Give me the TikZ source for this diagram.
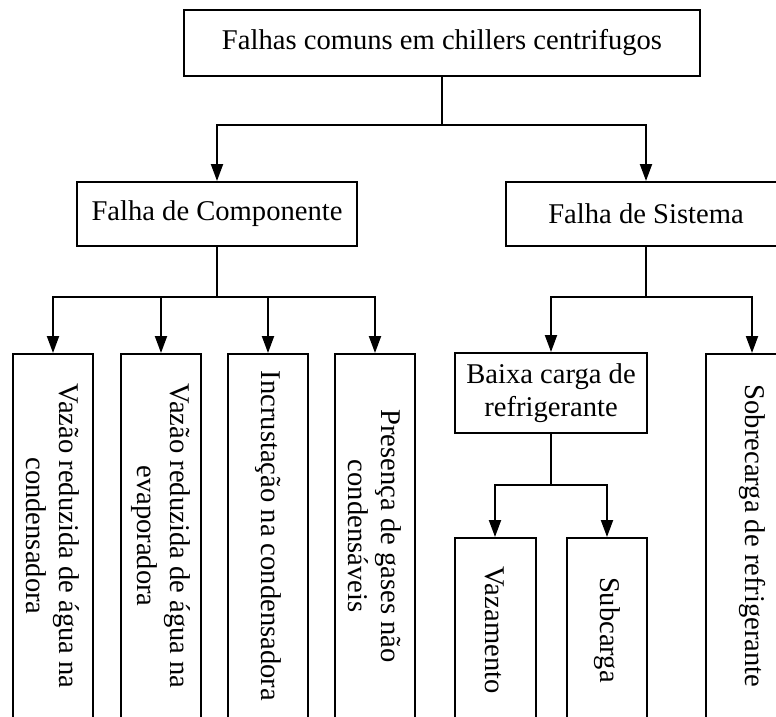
\documentclass[tikz,border=0pt]{standalone}
\usepackage{fontspec}
\setmainfont{Liberation Serif}
\usetikzlibrary{arrows.meta}
\begin{document}
\begin{tikzpicture}[x=1pt,y=-1pt,
  box/.style={draw, line width=2pt, inner sep=0pt, align=center,
              font=\fontsize{28.6}{33}\selectfont},
  vbox/.style={box, rotate=-90},
  link/.style={line width=2pt, -{Triangle[length=17pt,width=12pt]}},
  trunk/.style={line width=2pt}]
\useasboundingbox (0,0) rectangle (776,716);
\clip (0,0) rectangle (776,716);

% root and first level
\node[box, minimum width=516pt, minimum height=66pt] (root) at (442,43) {Falhas comuns em chillers centrifugos};
\node[box, minimum width=280pt, minimum height=64pt] (comp) at (217,214) {Falha de Componente};
\node[box, minimum width=280pt, minimum height=64pt] (sist) at (646,214) {Falha de Sistema};

% component faults (vertical text)
\node[vbox, minimum width=364pt, minimum height=80pt] (c1) at (53,536) {Vazão reduzida de água na\\condensadora};
\node[vbox, minimum width=364pt, minimum height=80pt] (c2) at (161,536) {Vazão reduzida de água na\\evaporadora};
\node[vbox, minimum width=364pt, minimum height=80pt] (c3) at (268,536) {Incrustação na condensadora};
\node[vbox, minimum width=364pt, minimum height=80pt] (c4) at (375,536) {Presença de gases não\\condensáveis};

% system faults
\node[box, minimum width=192pt, minimum height=80pt] (baixa) at (551,393) {Baixa carga de\\refrigerante};
\node[vbox, minimum width=364pt, minimum height=92pt] (sobre) at (752,536) {Sobrecarga de refrigerante};
\node[vbox, minimum width=184pt, minimum height=81pt] (vaz) at (495,630) {Vazamento};
\node[vbox, minimum width=184pt, minimum height=80pt] (sub) at (607,630) {Subcarga};

% junction points
\coordinate (j0) at (442,125);
\coordinate (j1) at (217,297);
\coordinate (j2) at (646,297);
\coordinate (j3) at (551,485);

% connectors
\draw[trunk] (root.south) -- (j0);
\draw[link] (j0) -| (comp.north);
\draw[link] (j0) -| (sist.north);

\draw[trunk] (comp.south) -- (j1);
\draw[link] (j1) -| (c1.west);
\draw[link] (j1) -| (c2.west);
\draw[link] (j1) -| (c3.west);
\draw[link] (j1) -| (c4.west);

\draw[trunk] (sist.south) -- (j2);
\draw[link] (j2) -| (baixa.north);
\draw[link] (j2) -| (sobre.west);

\draw[trunk] (baixa.south) -- (j3);
\draw[link] (j3) -| (vaz.west);
\draw[link] (j3) -| (sub.west);
\end{tikzpicture}
\end{document}
